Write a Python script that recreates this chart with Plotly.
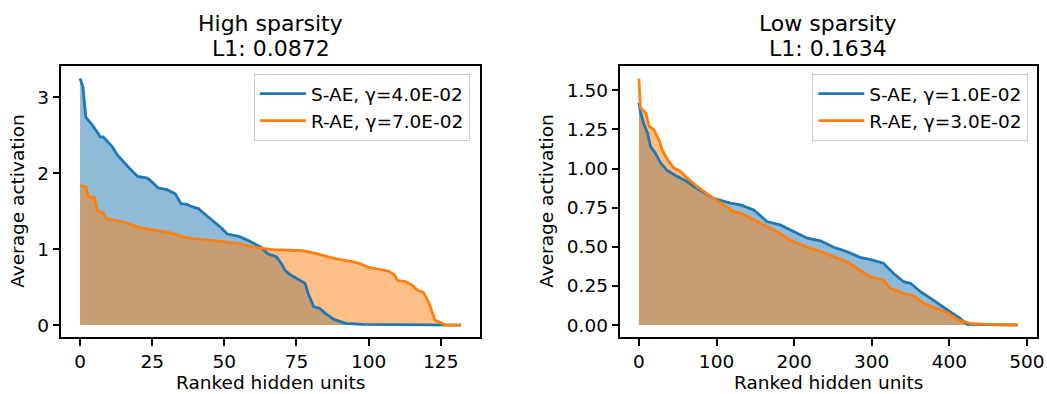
import plotly.graph_objects as go

# ---------------- data ----------------
# High sparsity panel
high_sae_rank = [0, 1, 2, 4, 6, 7, 8, 10, 11, 13, 15, 17, 20, 23, 24, 27, 30, 33, 35, 37, 39, 41,
                 43, 46, 49, 51, 55, 58, 61, 63, 65, 68, 70, 71, 73, 76, 78, 79, 81, 83, 85, 88,
                 90, 92, 98, 110, 125, 132]
high_sae_act = [3.25, 3.14, 2.74, 2.65, 2.54, 2.48, 2.48, 2.39, 2.36, 2.24, 2.15, 2.07, 1.96, 1.94,
                1.92, 1.81, 1.785, 1.73, 1.60, 1.59, 1.557, 1.535, 1.47, 1.38, 1.28, 1.20, 1.17,
                1.12, 1.06, 1.02, 0.94, 0.90, 0.80, 0.72, 0.66, 0.59, 0.55, 0.42, 0.24, 0.22,
                0.154, 0.075, 0.05, 0.022, 0.01, 0.005, 0.0, 0.0]
high_rae_rank = [0, 2, 3, 5, 6, 8, 9, 12, 15, 18, 21, 26, 32, 36, 39, 47, 55, 61, 67, 77, 82, 87,
                 91, 94, 97, 100, 104, 107, 109, 110, 113, 115, 117, 119, 121, 122, 123, 126,
                 127, 132]
high_rae_act = [1.84, 1.82, 1.69, 1.68, 1.51, 1.48, 1.40, 1.38, 1.36, 1.32, 1.28, 1.25, 1.21, 1.16,
                1.14, 1.11, 1.075, 1.02, 0.995, 0.98, 0.943, 0.89, 0.855, 0.84, 0.81, 0.76, 0.73,
                0.71, 0.66, 0.59, 0.57, 0.526, 0.46, 0.43, 0.285, 0.175, 0.066, 0.013, 0.0, 0.0]

# Low sparsity panel
low_sae_rank = [0, 2, 6, 11, 15, 21, 28, 36, 49, 62, 71, 96, 118, 131, 148, 165, 182, 200, 217,
                234, 251, 268, 285, 300, 315, 328, 341, 350, 363, 376, 388, 401, 414, 423, 488]
low_sae_act = [1.42, 1.36, 1.29, 1.227, 1.14, 1.10, 1.035, 0.99, 0.95, 0.917, 0.885, 0.81, 0.779,
               0.768, 0.736, 0.661, 0.64, 0.597, 0.555, 0.538, 0.497, 0.469, 0.433, 0.416, 0.395,
               0.331, 0.277, 0.267, 0.213, 0.171, 0.128, 0.085, 0.043, 0.004, 0.0]
low_rae_rank = [0, 1, 2, 9, 13, 19, 26, 30, 37, 45, 54, 62, 75, 96, 109, 122, 131, 148, 165, 178,
                195, 217, 234, 251, 268, 281, 298, 315, 324, 341, 354, 367, 384, 399, 412, 427,
                448, 488]
low_rae_act = [1.575, 1.42, 1.387, 1.355, 1.27, 1.25, 1.18, 1.12, 1.056, 1.003, 0.98, 0.94, 0.885,
               0.81, 0.768, 0.725, 0.715, 0.672, 0.629, 0.597, 0.544, 0.497, 0.469, 0.437, 0.405,
               0.363, 0.309, 0.288, 0.235, 0.203, 0.186, 0.139, 0.107, 0.075, 0.032, 0.011,
               0.005, 0.002]

titles = ["High sparsity", "Low sparsity"]
l1_values = ["L1: 0.0872", "L1: 0.1634"]
legend_names = [["S-AE, γ=4.0E-02", "R-AE, γ=7.0E-02"],
                ["S-AE, γ=1.0E-02", "R-AE, γ=3.0E-02"]]
x_label = "Ranked hidden units"
y_label = "Average activation"
high_xticks = [0, 25, 50, 75, 100, 125]
high_yticks = [0, 1, 2, 3]
low_xticks = [0, 100, 200, 300, 400, 500]
low_yticks = [0.0, 0.25, 0.5, 0.75, 1.0, 1.25, 1.5]

# ---------------- styling / layout ----------------
W, H = 1047, 394
FONT = "DejaVu Sans"
BLUE, ORANGE = "#1f77b4", "#ff7f0e"
BLUE_FILL, ORANGE_FILL = "rgba(31,119,180,0.5)", "rgba(255,127,14,0.5)"
FS = 18.5


def fx(p):
    return p / W


def fy(p):
    return 1 - p / H


fig = go.Figure()

panels = [
    dict(xa="x", ya="y", leg="legend",
         s=(high_sae_rank, high_sae_act), r=(high_rae_rank, high_rae_act), names=legend_names[0]),
    dict(xa="x2", ya="y2", leg="legend2",
         s=(low_sae_rank, low_sae_act), r=(low_rae_rank, low_rae_act), names=legend_names[1]),
]

for p in panels:
    # fills first
    for (xs, ys), fc in ((p["s"], BLUE_FILL), (p["r"], ORANGE_FILL)):
        fig.add_trace(go.Scatter(x=xs, y=ys, mode="lines", fill="tozeroy", fillcolor=fc,
                                 line=dict(width=0, color=fc), showlegend=False,
                                 hoverinfo="skip", xaxis=p["xa"], yaxis=p["ya"]))
    # lines on top
    for (xs, ys), col, nm in ((p["s"], BLUE, p["names"][0]), (p["r"], ORANGE, p["names"][1])):
        fig.add_trace(go.Scatter(x=xs, y=ys, mode="lines", name=nm,
                                 line=dict(width=2.8, color=col),
                                 xaxis=p["xa"], yaxis=p["ya"], legend=p["leg"]))

axis_common = dict(showline=True, linecolor="black", linewidth=1.5, mirror=True,
                   ticks="outside", ticklen=6.5, tickwidth=1.5, tickcolor="black",
                   showgrid=False, zeroline=False, automargin=False,
                   tickfont=dict(family=FONT, size=FS, color="black"))

y_top, y_bot = 66.2, 337.4
left_x = (61, 480)
right_x = (620, 1036.5)

legend_common = dict(xanchor="right", yanchor="top", itemwidth=46,
                     bgcolor="rgba(255,255,255,0.8)", bordercolor="#cccccc", borderwidth=1,
                     font=dict(family=FONT, size=FS, color="black"))

fig.update_layout(
    width=W, height=H,
    margin=dict(l=0, r=0, t=0, b=0),
    paper_bgcolor="white", plot_bgcolor="white",
    font=dict(family=FONT, size=FS, color="black"),
    template="none",
    xaxis=dict(domain=[fx(left_x[0]), fx(left_x[1])], range=[-6.6, 138.6], anchor="y",
               tickvals=high_xticks, ticktext=[str(v) for v in high_xticks], **axis_common),
    yaxis=dict(domain=[fy(y_bot), fy(y_top)], range=[-0.1625, 3.4125], anchor="x",
               tickvals=high_yticks, ticktext=[str(v) for v in high_yticks], **axis_common),
    xaxis2=dict(domain=[fx(right_x[0]), fx(right_x[1])], range=[-24.4, 512.4], anchor="y2",
                tickvals=low_xticks, ticktext=[str(v) for v in low_xticks], **axis_common),
    yaxis2=dict(domain=[fy(y_bot), fy(y_top)], range=[-0.07875, 1.65375], anchor="x2",
                tickvals=low_yticks, ticktext=[f"{v:.2f}" for v in low_yticks], **axis_common),
    legend=dict(x=fx(470), y=fy(74), **legend_common),
    legend2=dict(x=fx(1028.3), y=fy(74), **legend_common),
    hovermode=False,
)

annotations = []
for i, (x0, x1) in enumerate((left_x, right_x)):
    cx = fx((x0 + x1) / 2)
    annotations.append(dict(text=titles[i], x=cx, y=fy(23), xref="paper", yref="paper",
                            xanchor="center", yanchor="middle", showarrow=False,
                            font=dict(family=FONT, size=22, color="black")))
    annotations.append(dict(text=l1_values[i], x=cx, y=fy(48), xref="paper", yref="paper",
                            xanchor="center", yanchor="middle", showarrow=False,
                            font=dict(family=FONT, size=22, color="black")))
    annotations.append(dict(text=x_label, x=cx, y=fy(382.5), xref="paper", yref="paper",
                            xanchor="center", yanchor="middle", showarrow=False,
                            font=dict(family=FONT, size=FS, color="black")))
ylab_x = [18, 547]
for i in range(2):
    annotations.append(dict(text=y_label, x=fx(ylab_x[i]), y=fy((y_top + y_bot) / 2),
                            xref="paper", yref="paper", xanchor="center", yanchor="middle",
                            textangle=-90, showarrow=False,
                            font=dict(family=FONT, size=FS, color="black")))
fig.update_layout(annotations=annotations)

fig.write_html("out.html")
